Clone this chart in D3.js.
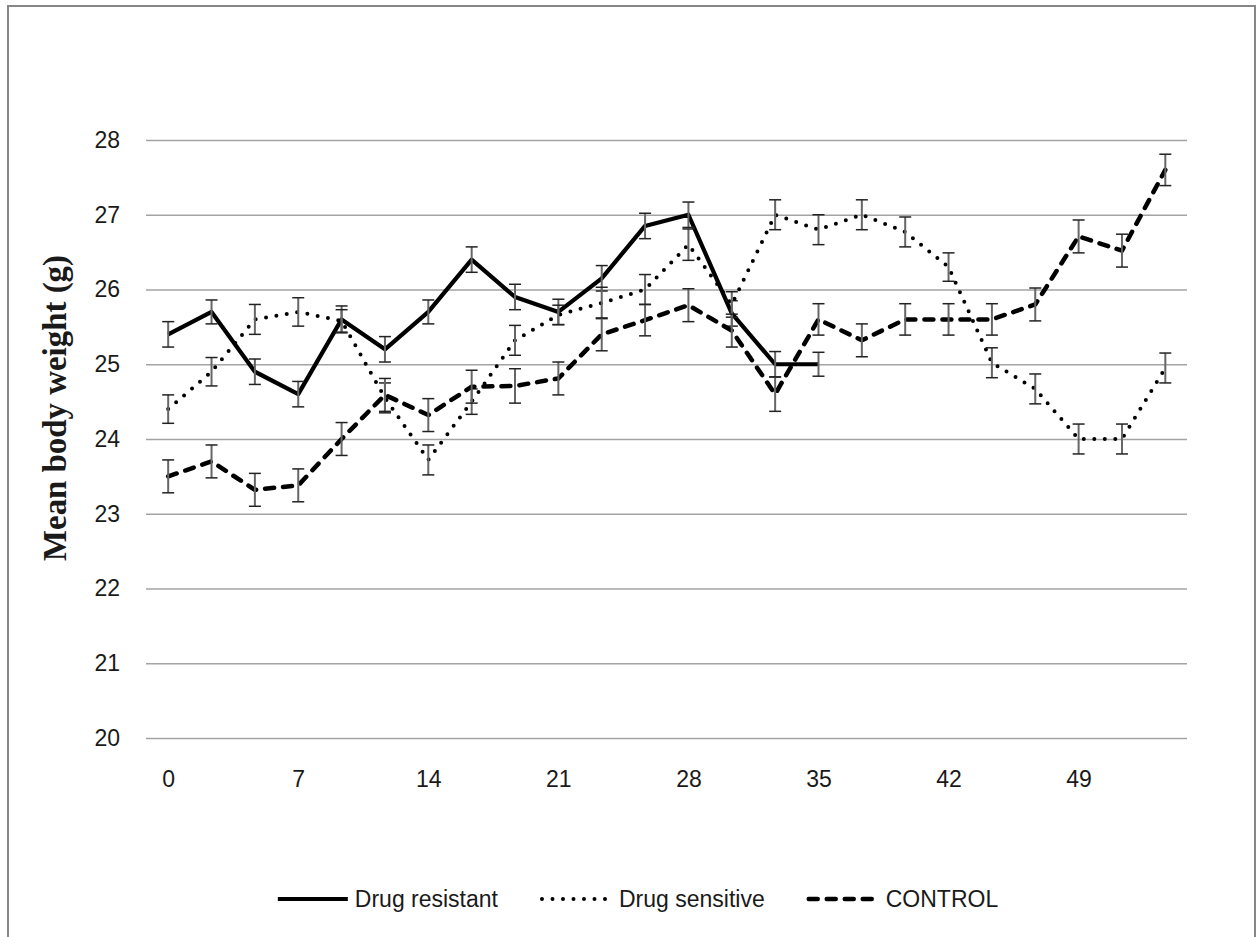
<!DOCTYPE html>
<meta charset="utf-8">
<head>
<script src="https://cdn.jsdelivr.net/npm/d3@7"></script>
<style>
  body { margin: 0; background: #fff; }
  text { font-family: "Liberation Sans", Arial, sans-serif; fill: #1a1a1a; }
</style>
</head>
<body>
<svg id="chart"></svg>
<script>
// sampling days (only multiples of 7 get a label)
var days = [0, 2, 4, 7, 9, 11, 14, 16, 18, 21, 23, 25, 28, 30, 32, 35, 37, 39, 42, 44, 46, 49, 51, 53];
var yTicks = [20, 21, 22, 23, 24, 25, 26, 27, 28];
var seriesNames = ["Drug resistant", "Drug sensitive", "CONTROL"];

var resistant    = [25.4, 25.7, 24.9, 24.6, 25.6, 25.2, 25.7, 26.4, 25.9, 25.7, 26.15, 26.85, 27.0, 25.68, 25.0, 25.0];
var resistantErr = [0.17, 0.16, 0.17, 0.17, 0.18, 0.17, 0.16, 0.17, 0.17, 0.17, 0.17, 0.17, 0.17, 0.17, 0.17, 0.16];

var sensitive    = [24.4, 24.9, 25.6, 25.7, 25.58, 24.55, 23.72, 24.5, 25.32, 25.66, 25.82, 26.0, 26.6, 25.8, 27.0, 26.8, 27.0, 26.77, 26.3, 25.02, 24.67, 24.0, 24.0, 24.95];
var sensitiveErr = [0.19, 0.19, 0.2, 0.19, 0.15, 0.2, 0.2, 0.17, 0.2, 0.13, 0.21, 0.2, 0.21, 0.17, 0.2, 0.2, 0.2, 0.2, 0.19, 0.2, 0.2, 0.2, 0.2, 0.2];

var control    = [23.5, 23.7, 23.32, 23.38, 24.0, 24.59, 24.32, 24.7, 24.71, 24.81, 25.4, 25.59, 25.79, 25.45, 24.6, 25.6, 25.32, 25.6, 25.6, 25.6, 25.8, 26.71, 26.52, 27.6];
var controlErr = [0.22, 0.22, 0.22, 0.22, 0.22, 0.22, 0.22, 0.22, 0.23, 0.22, 0.22, 0.21, 0.22, 0.22, 0.23, 0.21, 0.22, 0.21, 0.21, 0.21, 0.22, 0.22, 0.22, 0.21];

var width = 1257, height = 937;
var svg = d3.select("#chart").attr("width", width).attr("height", height);

// outer frame
svg.append("rect")
   .attr("x", 8).attr("y", 6)
   .attr("width", 1247).attr("height", 945)
   .attr("fill", "none").attr("stroke", "#878787").attr("stroke-width", 2);

var x = d3.scalePoint().domain(days).range([146.5, 1187]).padding(0.5);
var y = d3.scaleLinear().domain([20, 28]).range([738, 140]);

// gridlines + y labels
var yAxis = svg.append("g")
   .attr("transform", "translate(146,0)")
   .call(d3.axisLeft(y).tickValues(yTicks).tickSize(-1041).tickPadding(26).tickFormat(d3.format("d")));
yAxis.select(".domain").remove();
yAxis.selectAll("line").attr("stroke", "#a3a3a3").attr("stroke-width", 1.5);
yAxis.selectAll("text").style("font-size", "23px").attr("fill", "#1a1a1a");

// x labels
var xAxis = svg.append("g")
   .attr("transform", "translate(0,738)")
   .call(d3.axisBottom(x).tickValues(days.filter(function(d) { return d % 7 === 0; })).tickSize(0).tickPadding(33));
xAxis.select(".domain").remove();
xAxis.selectAll("text").style("font-size", "23px").attr("fill", "#1a1a1a");

// y title
svg.append("text")
   .attr("transform", "translate(66,408) rotate(-90)")
   .attr("text-anchor", "middle")
   .attr("textLength", 306).attr("lengthAdjust", "spacingAndGlyphs")
   .style("font-family", "'Liberation Serif', 'Times New Roman', serif")
   .style("font-weight", "bold")
   .style("font-size", "33px")
   .attr("fill", "#000")
   .text("Mean body weight (g)");

var styles = [
  { width: 4.2, dash: null, cap: "butt" },
  { width: 4, dash: "0,10.5", cap: "round" },
  { width: 4.5, dash: "9,9", cap: "round" }
];
var series = [
  { vals: resistant, err: resistantErr },
  { vals: sensitive, err: sensitiveErr },
  { vals: control, err: controlErr }
];

var line = d3.line()
   .defined(function(d) { return d != null; })
   .x(function(d, i) { return x(days[i]); })
   .y(function(d) { return y(d); });

series.forEach(function(s, k) {
  var st = styles[k];
  svg.append("path")
     .datum(s.vals)
     .attr("d", line)
     .attr("fill", "none")
     .attr("stroke", "#000")
     .attr("stroke-width", st.width)
     .attr("stroke-linecap", st.cap)
     .attr("stroke-linejoin", "round")
     .attr("stroke-dasharray", st.dash);

  var bars = svg.append("g").selectAll("g")
     .data(s.vals.map(function(v, i) { return { i: i, v: v, e: s.err[i] }; }))
     .enter().append("g");
  bars.append("line")
     .attr("x1", function(d) { return x(days[d.i]); })
     .attr("x2", function(d) { return x(days[d.i]); })
     .attr("y1", function(d) { return y(d.v + d.e); })
     .attr("y2", function(d) { return y(d.v - d.e); })
     .attr("stroke", "#666").attr("stroke-width", 2);
  [1, -1].forEach(function(sg) {
    bars.append("line")
       .attr("x1", function(d) { return x(days[d.i]) - 6; })
       .attr("x2", function(d) { return x(days[d.i]) + 6; })
       .attr("y1", function(d) { return y(d.v + sg * d.e); })
       .attr("y2", function(d) { return y(d.v + sg * d.e); })
       .attr("stroke", "#222").attr("stroke-width", 1.5);
  });
});

// legend
var legend = svg.append("g").attr("transform", "translate(0,899)");
var lx = 0;
var items = seriesNames.map(function(name, k) {
  var g = legend.append("g");
  g.append("line")
   .attr("x1", 0).attr("x2", 70)
   .attr("stroke", "#000")
   .attr("stroke-width", styles[k].width)
   .attr("stroke-linecap", styles[k].cap)
   .attr("stroke-dasharray", styles[k].dash);
  var t = g.append("text")
   .attr("x", 77).attr("dy", "0.35em")
   .style("font-size", "23px")
   .text(name);
  var w = 77 + t.node().getComputedTextLength();
  g.attr("transform", "translate(" + lx + ",0)");
  lx += w + 44;
  return w;
});
var total = lx - 44;
legend.attr("transform", "translate(" + (638 - total / 2) + ",899)");
</script>
</body>
